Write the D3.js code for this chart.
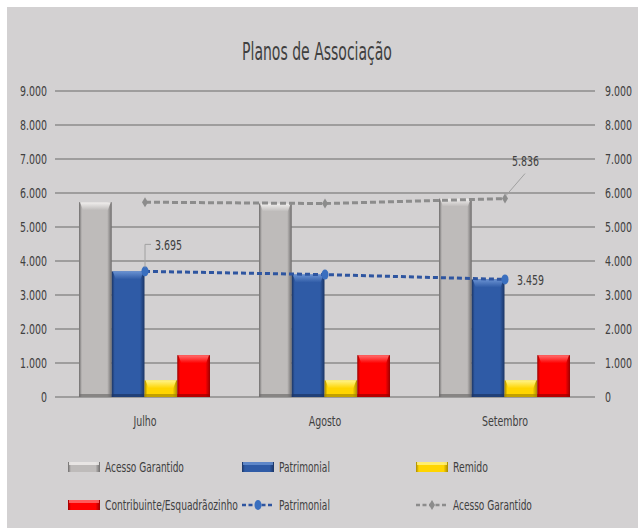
<!DOCTYPE html>
<html>
<head>
<meta charset="utf-8">
<script src="https://cdn.jsdelivr.net/npm/d3@7/dist/d3.min.js"></script>
<style>
  html, body { margin: 0; padding: 0; background: #ffffff; }
  text { font-family: "Liberation Sans Narrow", "DejaVu Sans Condensed", "Liberation Sans", sans-serif; fill: #404040; }
</style>
</head>
<body>
<svg id="chart"></svg>
<script>
// chart values
const categories = ["Julho", "Agosto", "Setembro"];
const acessoGarantido = [5730, 5690, 5836];
const patrimonial = [3695, 3600, 3459];
const remido = [490, 490, 490];
const contribuinte = [1230, 1230, 1230];
const yTicks = [0, 1000, 2000, 3000, 4000, 5000, 6000, 7000, 8000, 9000];

const barKeys = ["acesso", "patrimonial", "remido", "contribuinte"];
const barValues = { acesso: acessoGarantido, patrimonial: patrimonial, remido: remido, contribuinte: contribuinte };

// bar colours: edge / base / top highlight
const barColors = {
    acesso:       { edge: "#6f6d6d", base: "#bebbba", top: "#f2f0ef" },
    patrimonial:  { edge: "#1b3565", base: "#2f5ba6", top: "#6a92d2" },
    remido:       { edge: "#a88a00", base: "#ffd500", top: "#fff48a" },
    contribuinte: { edge: "#9a0000", base: "#ff0000", top: "#ff7070" }
};

const width = 638, height = 528;
const plot = { left: 55, right: 595, top: 91, bottom: 397 };

const pt = d3.formatLocale({ decimal: ",", thousands: ".", grouping: [3], currency: ["R$", ""] });
const fmt = pt.format(",");

const svg = d3.select("#chart").attr("width", width).attr("height", height);
const defs = svg.append("defs");

// grey panel with thin white border on the top/left
svg.append("rect").attr("x", 7).attr("y", 7).attr("width", width - 7).attr("height", height - 7)
    .attr("fill", "#d3d1d2");

// the original font is much narrower: scale texts horizontally by k
function squeeze(sel, k) {
    sel.each(function () {
        const t = d3.select(this);
        const x = +(t.attr("x") || 0);
        t.attr("x", x / k).attr("transform", `scale(${k},1)`);
    });
}
function fitWidth(sel, w) {
    sel.each(function () {
        const k = w / this.getComputedTextLength();
        d3.select(this).call(squeeze, k);
    });
}

// scales
const x0 = d3.scaleBand().domain(categories).range([plot.left, plot.right]).padding(0);
const x1 = d3.scaleBand().domain(barKeys).range([24, 155]).padding(0);
const y = d3.scaleLinear().domain([0, 9000]).range([plot.bottom, plot.top]);

// title
svg.append("text").attr("x", 317).attr("y", 60).attr("text-anchor", "middle")
    .style("font-size", "24px").attr("fill", "#555555").text("Planos de Associação")
    .call(fitWidth, 150);

// gridlines
svg.append("g").selectAll("line").data(yTicks).join("line")
    .attr("x1", plot.left).attr("x2", plot.right)
    .attr("y1", d => y(d)).attr("y2", d => y(d))
    .attr("stroke", "#8c8b8b").attr("stroke-width", 1.5);

// axes (labels only)
const leftAxis = svg.append("g").attr("transform", `translate(${plot.left},0)`)
    .call(d3.axisLeft(y).tickValues(yTicks).tickFormat(fmt).tickSize(0).tickPadding(8));
const rightAxis = svg.append("g").attr("transform", `translate(${plot.right},0)`)
    .call(d3.axisRight(y).tickValues(yTicks).tickFormat(fmt).tickSize(0).tickPadding(10));
const bottomAxis = svg.append("g").attr("transform", `translate(0,${plot.bottom})`)
    .call(d3.axisBottom(x0).tickSize(0).tickPadding(19));

// measure "9.000" once to get the compression factor for numbers
const probe = svg.append("text").style("font-size", "14px").text(fmt(9000));
const kNum = 27 / probe.node().getComputedTextLength();
probe.remove();

[leftAxis, rightAxis, bottomAxis].forEach(a => {
    a.select(".domain").remove();
    a.selectAll("text").style("font-size", "14px").attr("fill", "#404040")
        .style("font-family", "\"Liberation Sans Narrow\", \"DejaVu Sans Condensed\", sans-serif")
        .call(squeeze, kNum);
});

// gradients for the bevelled bars
barKeys.forEach(k => {
    const c = barColors[k];
    const gh = defs.append("linearGradient").attr("id", "gh-" + k).attr("x1", 0).attr("x2", 1).attr("y1", 0).attr("y2", 0);
    gh.append("stop").attr("offset", "0%").attr("stop-color", c.edge);
    gh.append("stop").attr("offset", "9%").attr("stop-color", c.base);
    gh.append("stop").attr("offset", "86%").attr("stop-color", c.base);
    gh.append("stop").attr("offset", "100%").attr("stop-color", c.edge);
    const gv = defs.append("linearGradient").attr("id", "gv-" + k).attr("x1", 0).attr("x2", 0).attr("y1", 0).attr("y2", 1);
    gv.append("stop").attr("offset", "0%").attr("stop-color", c.top);
    gv.append("stop").attr("offset", "100%").attr("stop-color", c.base);
});

// bars
const barData = [];
categories.forEach((cat, i) => barKeys.forEach(k => barData.push({ cat, key: k, value: barValues[k][i] })));

const bars = svg.append("g").selectAll("g.bar").data(barData).join("g").attr("class", "bar")
    .attr("transform", d => `translate(${x0(d.cat) + x1(d.key)},0)`);
const bw = x1.bandwidth();
bars.append("rect")
    .attr("x", 0).attr("width", bw)
    .attr("y", d => y(d.value)).attr("height", d => y(0) - y(d.value))
    .attr("fill", d => `url(#gh-${d.key})`);
bars.append("path")
    .attr("d", d => {
        const t = y(d.value);
        return `M1,${t}L${bw - 1},${t}L${bw - 4},${t + 8}L4,${t + 8}Z`;
    })
    .attr("fill", d => `url(#gv-${d.key})`);
bars.append("rect")
    .attr("x", 0).attr("width", bw)
    .attr("y", y(0) - 3).attr("height", 3)
    .attr("fill", d => barColors[d.key].edge).attr("opacity", 0.7);

// lines
const cx = d => x0(d) + x0.bandwidth() / 2;
const line = d3.line().x(d => cx(d.cat)).y(d => y(d.value));
const acessoPts = categories.map((cat, i) => ({ cat, value: acessoGarantido[i] }));
const patrPts = categories.map((cat, i) => ({ cat, value: patrimonial[i] }));

svg.append("path").datum(acessoPts).attr("d", line)
    .attr("fill", "none").attr("stroke", "#8c8c8c").attr("stroke-width", 3).attr("stroke-dasharray", "6,3");
svg.append("path").datum(patrPts).attr("d", line)
    .attr("fill", "none").attr("stroke", "#2e55a0").attr("stroke-width", 3).attr("stroke-dasharray", "5,3");

const diamond = "M0,-5L3,0L0,5L-3,0Z";
svg.append("g").selectAll("path").data(acessoPts).join("path")
    .attr("transform", d => `translate(${cx(d.cat)},${y(d.value)})`)
    .attr("d", diamond).attr("fill", "#8c8c8c");
svg.append("g").selectAll("ellipse").data(patrPts).join("ellipse")
    .attr("cx", d => cx(d.cat)).attr("cy", d => y(d.value))
    .attr("rx", 3.5).attr("ry", 5).attr("fill", "#3a6fbf");

// data labels with leader lines
const lab = svg.append("g");
{
    const px = cx(categories[0]), py = y(patrimonial[0]);
    lab.append("path").attr("d", `M${px},${py - 4}V${py - 27}H${px + 6}`)
        .attr("fill", "none").attr("stroke", "#a0a0a0").attr("stroke-width", 1);
    lab.append("text").attr("x", px + 10).attr("y", py - 21).style("font-size", "14px")
        .text(fmt(patrimonial[0])).call(squeeze, kNum);
}
{
    const px = cx(categories[2]), py = y(acessoGarantido[2]);
    lab.append("path").attr("d", `M${px + 1},${py - 3}L${px + 20},${py - 25}`)
        .attr("fill", "none").attr("stroke", "#a0a0a0").attr("stroke-width", 1);
    lab.append("text").attr("x", px + 7).attr("y", py - 33).style("font-size", "14px")
        .text(fmt(acessoGarantido[2])).call(squeeze, kNum);
}
{
    const px = cx(categories[2]), py = y(patrimonial[2]);
    lab.append("text").attr("x", px + 12).attr("y", py + 6).style("font-size", "14px")
        .text(fmt(patrimonial[2])).call(squeeze, kNum);
}

// legend
const legendItems = [
    { type: "bar", key: "acesso", label: "Acesso Garantido", x: 68, y: 467, w: 79 },
    { type: "bar", key: "patrimonial", label: "Patrimonial", x: 242, y: 467, w: 51 },
    { type: "bar", key: "remido", label: "Remido", x: 416, y: 467, w: 35 },
    { type: "bar", key: "contribuinte", label: "Contribuinte/Esquadrãozinho", x: 68, y: 505, w: 133 },
    { type: "line", key: "patrimonial", label: "Patrimonial", x: 242, y: 505, w: 51 },
    { type: "line", key: "acesso", label: "Acesso Garantido", x: 416, y: 505, w: 79 }
];
const leg = svg.append("g").selectAll("g").data(legendItems).join("g")
    .attr("transform", d => `translate(${d.x},${d.y})`);
leg.filter(d => d.type === "bar").each(function (d) {
    const g = d3.select(this);
    g.append("rect").attr("x", 0).attr("y", -5).attr("width", 32).attr("height", 10)
        .attr("fill", `url(#gh-${d.key})`);
    g.append("rect").attr("x", 1).attr("y", -5).attr("width", 30).attr("height", 3)
        .attr("fill", barColors[d.key].top).attr("opacity", 0.8);
});
leg.filter(d => d.type === "line").each(function (d) {
    const g = d3.select(this);
    const col = d.key === "acesso" ? "#8c8c8c" : "#2e55a0";
    g.append("line").attr("x1", 0).attr("x2", 32).attr("y1", 0).attr("y2", 0)
        .attr("stroke", col).attr("stroke-width", 2.5).attr("stroke-dasharray", "4,2.5");
    if (d.key === "acesso") {
        g.append("path").attr("transform", "translate(16,0)").attr("d", diamond).attr("fill", col);
    } else {
        g.append("ellipse").attr("cx", 16).attr("cy", 0).attr("rx", 3.5).attr("ry", 5).attr("fill", "#3a6fbf");
    }
});
leg.append("text").attr("x", 37).attr("y", 5).style("font-size", "14px")
    .text(d => d.label).each(function (d) { d3.select(this).call(fitWidth, d.w); });
</script>
</body>
</html>
